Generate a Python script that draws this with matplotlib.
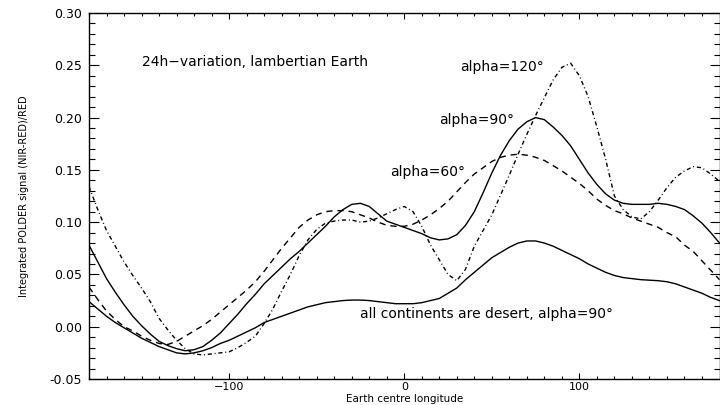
import numpy as np
import matplotlib
matplotlib.use("Agg")
import matplotlib.pyplot as plt
from matplotlib.ticker import MultipleLocator

# Earth centre longitude (deg), 5 deg steps
lon = np.arange(-180, 181, 5)

# all continents are desert, alpha=90
desert = [0.024, 0.017, 0.010, 0.004, -0.001, -0.006, -0.011, -0.015, -0.019, -0.022,
          -0.025, -0.026, -0.025, -0.023, -0.020, -0.016, -0.013, -0.009, -0.005, -0.001,
          0.004, 0.007, 0.010, 0.013, 0.016, 0.019, 0.021, 0.023, 0.024, 0.025,
          0.0255, 0.0255, 0.025, 0.024, 0.023, 0.022, 0.022, 0.022, 0.023, 0.025,
          0.027, 0.032, 0.037, 0.045, 0.052, 0.059, 0.066, 0.071, 0.076, 0.080,
          0.082, 0.082, 0.080, 0.077, 0.073, 0.069, 0.065, 0.060, 0.056, 0.052,
          0.049, 0.047, 0.046, 0.045, 0.0445, 0.044, 0.043, 0.041, 0.038, 0.035,
          0.032, 0.028, 0.025]

# alpha = 90
a90 = [0.078, 0.062, 0.046, 0.033, 0.021, 0.010, 0.001, -0.007, -0.014, -0.018,
       -0.021, -0.023, -0.022, -0.019, -0.013, -0.006, 0.003, 0.012, 0.022, 0.031,
       0.041, 0.049, 0.057, 0.065, 0.072, 0.080, 0.088, 0.096, 0.105, 0.112,
       0.117, 0.118, 0.115, 0.108, 0.101, 0.098, 0.095, 0.092, 0.089, 0.085,
       0.083, 0.084, 0.088, 0.097, 0.110, 0.128, 0.147, 0.164, 0.178, 0.189,
       0.196, 0.200, 0.198, 0.191, 0.183, 0.173, 0.160, 0.147, 0.136, 0.127,
       0.121, 0.118, 0.117, 0.117, 0.117, 0.118, 0.117, 0.115, 0.112, 0.106,
       0.099, 0.090, 0.080]

# alpha = 60
a60 = [0.038, 0.026, 0.015, 0.007, 0.000, -0.004, -0.009, -0.013, -0.016, -0.017,
       -0.014, -0.009, -0.004, 0.001, 0.007, 0.014, 0.021, 0.028, 0.035, 0.043,
       0.053, 0.064, 0.075, 0.085, 0.095, 0.102, 0.107, 0.110, 0.111, 0.111,
       0.110, 0.107, 0.104, 0.100, 0.097, 0.096, 0.096, 0.098, 0.102, 0.107,
       0.113, 0.120, 0.129, 0.138, 0.146, 0.152, 0.158, 0.162, 0.164, 0.165,
       0.164, 0.162, 0.159, 0.154, 0.149, 0.143, 0.137, 0.130, 0.122, 0.116,
       0.111, 0.108, 0.104, 0.101, 0.098, 0.095, 0.090, 0.086, 0.078, 0.072,
       0.063, 0.054, 0.045]

# alpha = 120
a120 = [0.134, 0.112, 0.092, 0.077, 0.062, 0.049, 0.037, 0.024, 0.008, -0.003,
        -0.013, -0.021, -0.026, -0.027, -0.026, -0.025, -0.024, -0.020, -0.015, -0.009,
        0.003, 0.017, 0.034, 0.050, 0.068, 0.083, 0.093, 0.099, 0.101, 0.102,
        0.102, 0.100, 0.101, 0.104, 0.108, 0.112, 0.115, 0.110, 0.096, 0.078,
        0.064, 0.050, 0.044, 0.055, 0.077, 0.092, 0.107, 0.126, 0.145, 0.165,
        0.184, 0.202, 0.219, 0.236, 0.248, 0.252, 0.240, 0.220, 0.191, 0.160,
        0.125, 0.112, 0.105, 0.103, 0.110, 0.121, 0.133, 0.143, 0.149, 0.153,
        0.152, 0.146, 0.139]

plt.rcParams['font.family'] = ['DejaVu Sans']
fig = plt.figure(figsize=(7.2, 4.05), dpi=100)
ax = fig.add_axes([89/720, 26/405, 630.5/720, 366/405])

lw = 1.0
ax.plot(lon, desert, color='black', lw=lw)
ax.plot(lon, a90, color='black', lw=lw)
ax.plot(lon, a60, color='black', lw=lw, linestyle=(0, (4.5, 3.5)))
ax.plot(lon, a120, color='black', lw=lw, linestyle=(0, (3, 2, 0.7, 2)))

ax.set_xlim(-180, 180)
ax.set_ylim(-0.05, 0.30)
ax.xaxis.set_major_locator(MultipleLocator(100))
ax.xaxis.set_minor_locator(MultipleLocator(10))
ax.yaxis.set_major_locator(MultipleLocator(0.05))
ax.yaxis.set_minor_locator(MultipleLocator(0.01))
ax.yaxis.set_major_formatter(plt.FormatStrFormatter('%.2f'))
ax.tick_params(which='both', direction='in', top=True, right=True, labelsize=9, width=0.8)
ax.tick_params(axis='x', which='major', length=4.3, pad=2.5, labelsize=8)
ax.tick_params(axis='x', which='minor', length=2.2)
ax.tick_params(axis='y', which='major', length=7.5, pad=5)
ax.tick_params(axis='y', which='minor', length=4)
for s in ax.spines.values():
    s.set_linewidth(1.0)

ax.set_xlabel('Earth centre longitude', fontsize=7.5, va='baseline')
ax.xaxis.set_label_coords(0.5, -(402.5 - 379) / 366)
ax.set_ylabel('Integrated POLDER signal (NIR-RED)/RED', fontsize=7,
              family=['Liberation Sans Narrow', 'DejaVu Sans'], labelpad=15)

fs = 10
ax.text(-150, 0.253, '24h\u2212variation, lambertian Earth', fontsize=fs, va='center')
ax.text(32, 0.248, 'alpha=120\u00b0', fontsize=fs, va='center')
ax.text(20, 0.198, 'alpha=90\u00b0', fontsize=fs, va='center')
ax.text(-8, 0.148, 'alpha=60\u00b0', fontsize=fs, va='center')
ax.text(-25, 0.012, 'all continents are desert, alpha=90\u00b0', fontsize=fs, va='center')

fig.savefig('out.png', dpi=100)
